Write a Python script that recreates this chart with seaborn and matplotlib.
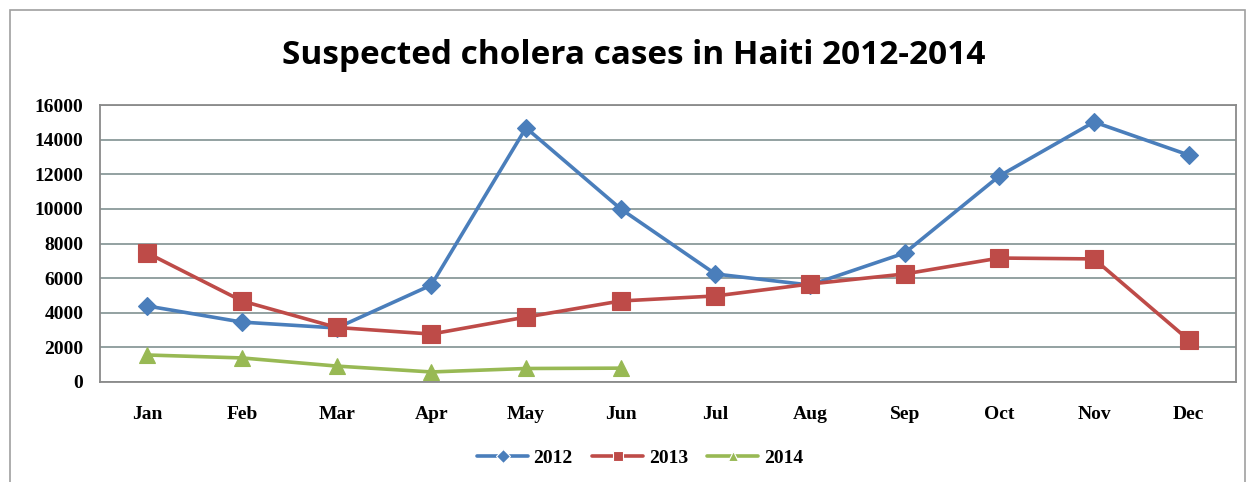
import numpy as np
import pandas as pd
import matplotlib
matplotlib.use("Agg")
import matplotlib.pyplot as plt
from matplotlib.patches import Rectangle
import seaborn as sns

months = ["Jan", "Feb", "Mar", "Apr", "May", "Jun", "Jul", "Aug", "Sep", "Oct", "Nov", "Dec"]
cases_2012 = [4390, 3460, 3120, 5600, 14680, 10000, 6240, 5600, 7450, 11900, 15020, 13110]
cases_2013 = [7450, 4680, 3150, 2770, 3750, 4680, 4970, 5660, 6240, 7160, 7110, 2430]
cases_2014 = [1560, 1390, 920, 580, 780, 800]
years = ["2012", "2013", "2014"]
yticks = [0, 2000, 4000, 6000, 8000, 10000, 12000, 14000, 16000]

rows = []
for yr, vals in zip(years, [cases_2012, cases_2013, cases_2014]):
    for i, v in enumerate(vals):
        rows.append({"month": i, "cases": v, "year": yr})
df = pd.DataFrame(rows)

sns.set_theme(style="white")
plt.rcParams['font.family'] = ['DejaVu Sans']

fig = plt.figure(figsize=(12.49, 4.82), dpi=100)
ax = fig.add_axes([100/1249, 1-382/482, 1136/1249, 277/482])

palette = {"2012": "#4A7EBB", "2013": "#BE4B48", "2014": "#98B954"}
markers = {"2012": "D", "2013": "s", "2014": "^"}
sns.lineplot(data=df, x="month", y="cases", hue="year", style="year",
             palette=palette, markers=markers, dashes=False, markersize=10,
             linewidth=2.6, markeredgewidth=0.8, ax=ax, legend=True)
for line, yr in zip(ax.lines[:3], years):
    line.set_markersize({"2012": 9, "2013": 13, "2014": 11}[yr])
    line.set_markeredgecolor(palette[yr])

ax.set_xlim(-0.5, 11.5)
ax.set_ylim(0, 16000)
ax.set_yticks(yticks)
ax.set_yticklabels([str(t) for t in yticks])
ax.set_xticks(range(12))
ax.set_xticklabels(months)
ax.grid(axis="y", color="#8A9A9A", linewidth=1.3)
ax.set_axisbelow(True)
for s in ["top", "right", "bottom", "left"]:
    ax.spines[s].set_visible(True)
    ax.spines[s].set_color("#8A8A8A")
    ax.spines[s].set_linewidth(1.3)
ax.tick_params(axis="y", length=0, pad=12, colors="black")
ax.tick_params(axis="x", length=0, pad=17, colors="black")
for lab in ax.get_xticklabels() + ax.get_yticklabels():
    lab.set_fontfamily("Liberation Serif")
    lab.set_fontweight("bold")
    lab.set_fontsize(14)
    lab.set_color("black")
ax.set_xlabel("")
ax.set_ylabel("")

fig.text(634/1249, 1-55/482, "Suspected cholera cases in Haiti 2012-2014",
         ha="center", va="center", fontsize=24, fontweight="bold", family="Open Sans",
         color="black")

handles, labels = ax.get_legend_handles_labels()
ax.get_legend().remove()
leg = fig.legend(handles, labels, loc="center", bbox_to_anchor=(640/1249, 1-458/482),
                 ncol=3, frameon=False, handlelength=2.6, columnspacing=1.0,
                 handletextpad=0.3, prop={"family": "Liberation Serif", "weight": "bold", "size": 14})
for t in leg.get_texts():
    t.set_color("black")
for h in leg.legend_handles:
    h.set_markersize(7)

fig.patches.append(Rectangle((10/1249, -0.05), 1235/1249, 1.05 - 10/482,
                             transform=fig.transFigure, fill=False,
                             edgecolor="#A0A0A0", linewidth=1.2))

fig.savefig("out.png", dpi=100)
